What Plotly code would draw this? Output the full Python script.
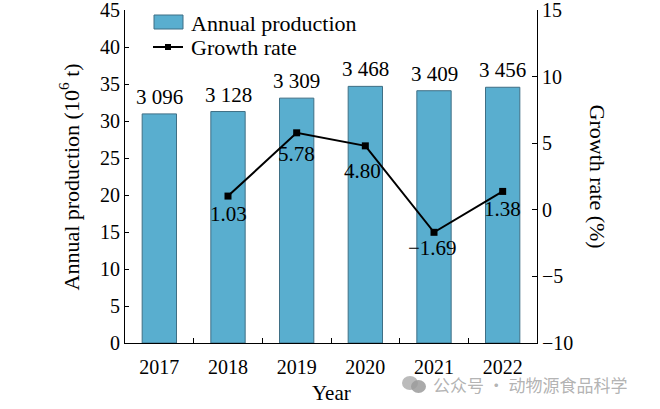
import plotly.graph_objects as go

years = ["2017", "2018", "2019", "2020", "2021", "2022"]
production = [3096, 3128, 3309, 3468, 3409, 3456]          # labelled values
production_labels = ["3 096", "3 128", "3 309", "3 468", "3 409", "3 456"]
growth_years = ["2018", "2019", "2020", "2021", "2022"]
growth = [1.03, 5.78, 4.80, -1.69, 1.38]
growth_labels = ["1.03", "5.78", "4.80", "\u22121.69", "1.38"]
left_ticks = [0, 5, 10, 15, 20, 25, 30, 35, 40, 45]
right_ticks = [-10, -5, 0, 5, 10, 15]
right_tick_labels = ["\u221210", "\u22125", "0", "5", "10", "15"]

# style-only offsets for growth labels (px, centre below the marker)
growth_label_dy = [-18, -21, -25, -16, -18]
growth_label_dx = [0, 0, -3, -2, 0]

FONT = "Liberation Serif"
BAR = "#59AECF"
BAR_EDGE = "#3F6F85"

bar_heights = [v / 100 for v in production]

fig = go.Figure()
fig.add_trace(go.Bar(
    x=years, y=bar_heights, width=0.5,
    marker=dict(color=BAR, line=dict(color=BAR_EDGE, width=1)),
    name="Annual production", showlegend=False,
))
fig.add_trace(go.Scatter(
    x=growth_years, y=growth, yaxis="y2", mode="lines+markers",
    line=dict(color="black", width=2),
    marker=dict(symbol="square", size=7, color="black"),
    name="Growth rate", showlegend=False,
))

ann = []
for yr, h, lab in zip(years, bar_heights, production_labels):
    ann.append(dict(x=years.index(yr), y=h, xref="x", yref="y", text=lab, showarrow=False,
                    yanchor="middle", yshift=17, font=dict(family=FONT, size=21, color="black")))
for yr, g, lab, dy, dx in zip(growth_years, growth, growth_labels, growth_label_dy, growth_label_dx):
    ann.append(dict(x=years.index(yr), y=g, xref="x", yref="y2", text=lab, showarrow=False,
                    yanchor="middle", yshift=dy, xshift=dx,
                    font=dict(family=FONT, size=21, color="black")))

# axis titles
ann.append(dict(x=-0.136, y=0.5, xref="paper", yref="paper", text="Annual production (10<sup>6</sup> t)",
                textangle=-90, showarrow=False, xanchor="center", yanchor="middle",
                font=dict(family=FONT, size=22, color="black")))
ann.append(dict(x=1.148, y=0.5, xref="paper", yref="paper", text="Growth rate (%)",
                textangle=90, showarrow=False, xanchor="center", yanchor="middle",
                font=dict(family=FONT, size=22, color="black")))
ann.append(dict(x=0.502, y=-0.15, xref="paper", yref="paper", text="Year",
                showarrow=False, xanchor="center", yanchor="middle",
                font=dict(family=FONT, size=21, color="black")))

# custom legend
def px_x(p):
    return (p - 125) / 412
def px_y(p):
    return (343 - p) / 333

shapes = [
    dict(type="rect", xref="paper", yref="paper", x0=px_x(154), x1=px_x(183),
         y0=px_y(29), y1=px_y(15), fillcolor=BAR, line=dict(color=BAR_EDGE, width=1)),
    dict(type="line", xref="paper", yref="paper", x0=px_x(153), x1=px_x(183),
         y0=px_y(47), y1=px_y(47), line=dict(color="black", width=2)),
    dict(type="rect", xref="paper", yref="paper", x0=px_x(165), x1=px_x(171),
         y0=px_y(50), y1=px_y(44), fillcolor="black", line=dict(color="black", width=0)),
    # watermark icon
    dict(type="circle", xref="paper", yref="paper", x0=px_x(402), x1=px_x(418),
         y0=px_y(390), y1=px_y(376), fillcolor="rgba(175,175,175,0.85)", line=dict(width=0)),
    dict(type="circle", xref="paper", yref="paper", x0=px_x(411), x1=px_x(426),
         y0=px_y(393), y1=px_y(380), fillcolor="rgba(155,155,155,0.85)", line=dict(width=0)),
]
ann.append(dict(x=px_x(189), y=px_y(23), xref="paper", yref="paper", text="Annual production",
                showarrow=False, xanchor="left", yanchor="middle",
                font=dict(family=FONT, size=22, color="black")))
ann.append(dict(x=px_x(189), y=px_y(48), xref="paper", yref="paper", text="Growth rate",
                showarrow=False, xanchor="left", yanchor="middle",
                font=dict(family=FONT, size=22, color="black")))
ann.append(dict(x=px_x(431), y=px_y(384), xref="paper", yref="paper", text="公众号 · 动物源食品科学",
                showarrow=False, xanchor="left", yanchor="middle",
                font=dict(family="Noto Sans CJK SC", size=17, color="rgba(170,170,170,0.9)")))

tickfont = dict(family=FONT, size=20, color="black")
fig.update_layout(
    width=660, height=409,
    margin=dict(l=125, r=123, t=10, b=66, autoexpand=False),
    paper_bgcolor="white", plot_bgcolor="white",
    xaxis=dict(type="category", range=[-0.5, 5.5], showline=True, linecolor="black", linewidth=1,
               ticks="inside", tickson="boundaries", ticklen=5, tickcolor="black",
               tickfont=tickfont, ticklabelstandoff=6, automargin=False,
               showgrid=False, zeroline=False),
    yaxis=dict(range=[0, 45], tickvals=left_ticks, showline=True, linecolor="black", linewidth=1,
               ticks="inside", ticklen=4, tickcolor="black", tickfont=tickfont, automargin=False,
               ticklabeloverflow="allow", showgrid=False, zeroline=False),
    yaxis2=dict(range=[-10, 15], tickvals=right_ticks, ticktext=right_tick_labels,
                overlaying="y", side="right", showline=True, linecolor="black", linewidth=1,
                ticks="inside", ticklen=5, tickcolor="black", tickfont=tickfont, automargin=False,
                ticklabeloverflow="allow", showgrid=False, zeroline=False),
    annotations=ann, shapes=shapes, showlegend=False,
)

fig.write_html("out.html", config={"displayModeBar": False},
               post_script="document.body.style.margin='0';")
